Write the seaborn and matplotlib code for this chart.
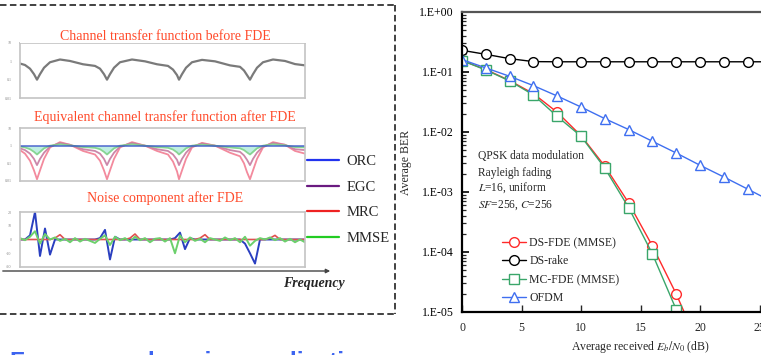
import numpy as np
import pandas as pd
import matplotlib
matplotlib.use("Agg")
import matplotlib.pyplot as plt
import seaborn as sns
from matplotlib.lines import Line2D
from matplotlib.patches import Rectangle
from matplotlib.ticker import FixedLocator, LogLocator, NullFormatter

# ---------------- data: BER chart ----------------
EBN0 = [0, 2, 4, 6, 8, 10, 12, 14, 16, 18, 20, 22, 24, 26]
DS_RAKE = [0.23, 0.197, 0.167, 0.149, 0.148, 0.148, 0.148, 0.148, 0.148, 0.148, 0.148, 0.148, 0.148, 0.148]
OFDM = [0.161, 0.117, 0.0848, 0.0593, 0.0398, 0.0261, 0.0167, 0.0110, 0.0070, 0.00447, 0.00279, 0.00178, 0.00112, 0.0007]
FDE_X = [0, 2, 4, 6, 8, 10, 12, 14, 16, 18, 20]
DS_FDE = [0.155, 0.11, 0.072, 0.0436, 0.0213, 0.0087, 0.0027, 0.00066, 0.000126, 0.00002, 0.0000025]
MC_FDE = [0.155, 0.108, 0.071, 0.0415, 0.0182, 0.0085, 0.0025, 0.00055, 0.000093, 0.000011, 0.000001]
YTICKS = [1, 1e-1, 1e-2, 1e-3, 1e-4, 1e-5]
YTICKLABELS = ["1.E+00", "1.E-01", "1.E-02", "1.E-03", "1.E-04", "1.E-05"]
XTICKS = [0, 5, 10, 15, 20, 25, 30]

# ---------------- data: left illustration ----------------
CH_X = [0, 5, 10, 14, 17, 20, 24, 30, 40, 50, 63, 75, 80, 84, 87, 90, 94, 100, 112, 125,
        137, 148, 153, 157, 159, 162, 166, 172, 182, 195, 210, 220, 224, 227, 230, 233, 237, 243, 253, 265,
        275, 285]
CH_LOG = [-0.12, -0.2, -0.4, -0.7, -1.0, -0.7, -0.35, -0.05, 0.1, 0.02, -0.16, -0.25, -0.4, -0.7, -1.0, -0.7, -0.35, -0.05, 0.1, 0.0,
          -0.16, -0.25, -0.45, -0.75, -1.0, -0.7, -0.35, -0.05, 0.08, 0.0, -0.22, -0.3, -0.5, -0.75, -1.0, -0.7, -0.35, -0.05, 0.1, 0.02,
          -0.15, -0.22]
ORC_X = [0, 285]
ORC = [0.0, 0.0]
EGC = [-0.15, -0.25, -0.45, -0.75, -1.1, -0.75, -0.4, -0.05, 0.15, 0.05, -0.2, -0.3, -0.45, -0.75, -1.1, -0.75, -0.4, -0.05, 0.15, 0.0,
       -0.2, -0.3, -0.5, -0.8, -1.1, -0.75, -0.4, -0.05, 0.12, 0.0, -0.25, -0.35, -0.55, -0.8, -1.1, -0.75, -0.4, -0.05, 0.15, 0.05,
       -0.2, -0.25]
MRC = [-0.25, -0.45, -0.85, -1.4, -1.9, -1.4, -0.75, -0.1, 0.2, 0.05, -0.3, -0.5, -0.85, -1.4, -1.9, -1.4, -0.75, -0.1, 0.2, 0.0,
       -0.3, -0.5, -0.9, -1.45, -1.9, -1.4, -0.75, -0.1, 0.16, 0.0, -0.4, -0.6, -1.0, -1.5, -1.9, -1.4, -0.75, -0.1, 0.2, 0.05,
       -0.3, -0.45]
MMSE = [-0.05, -0.1, -0.2, -0.35, -0.5, -0.35, -0.15, 0.0, 0.08, 0.02, -0.08, -0.12, -0.2, -0.35, -0.5, -0.35, -0.15, 0.0, 0.08, 0.0,
        -0.08, -0.12, -0.22, -0.38, -0.5, -0.35, -0.15, 0.0, 0.06, 0.0, -0.1, -0.15, -0.25, -0.38, -0.5, -0.35, -0.15, 0.0, 0.08, 0.02,
        -0.08, -0.1]
N_X = list(range(0, 286, 5))
N_GREEN = [0.1, -0.05, 0.2, 0.6, -0.3, 0.4, 0.0, 0.15, -0.1, 0.05, -0.2, 0.1, -0.15, 0.05, -0.1, -0.25, 0.05, 0.3, -0.4, 0.2,
           -0.05, 0.1, -0.15, 0.2, -0.05, 0.1, -0.2, 0.05, 0.1, -0.15, 0.1, -1.0, 0.3, -0.2, 0.15, -0.1, 0.05, -0.2, 0.1, 0.0,
           -0.1, 0.15, -0.05, 0.1, -0.2, 0.2, -0.45, -0.1, 0.1, 0.0, 0.15, -0.05, 0.1, -0.15, 0.05, -0.2, 0.0, -0.2]
N_BLUE = [0.0, 0.0, 0.3, 2.0, -1.2, 0.8, -1.1, 0.0, 0.0, 0.0, 0.0, 0.0, 0.0, 0.0, 0.0, 0.0, 0.1, 0.7, -1.45, 0.2,
          0.0, 0.0, 0.0, 0.0, 0.0, 0.0, 0.0, 0.0, 0.0, 0.0, 0.0, 0.1, 0.5, -0.7, 0.1, 0.0, 0.0, 0.0, 0.0, 0.0,
          0.0, 0.0, 0.0, 0.0, 0.0, -0.3, -1.0, -1.75, 0.0, 0.0, 0.0, 0.0, 0.0, 0.0, 0.0, 0.0, 0.0, 0.0]
N_RED = [0.0, 0.0, 0.0, 0.0, 0.0, 0.0, 0.0, 0.1, 0.35, 0.0, 0.0, 0.0, 0.0, 0.0, 0.0, 0.0, 0.0, 0.0, 0.0, 0.0,
         0.0, 0.0, 0.1, 0.4, 0.0, 0.0, 0.0, 0.0, 0.0, 0.0, 0.0, 0.0, 0.0, 0.0, 0.0, 0.0, 0.1, 0.35, 0.0, 0.0,
         0.0, 0.0, 0.0, 0.0, 0.0, 0.0, 0.0, 0.0, 0.0, 0.0, 0.1, 0.3, 0.0, 0.0, 0.0, 0.0, 0.0, 0.0]
LEFT_LABELS = ["ORC", "EGC", "MRC", "MMSE"]

# ---------------- style ----------------
sns.set_theme(style="white")
plt.rcParams['font.family'] = ['Liberation Serif', 'DejaVu Serif']
plt.rcParams['mathtext.fontset'] = 'stix'

W, H = 761, 355
fig = plt.figure(figsize=(W / 100, H / 100), dpi=100)


def rect(x0, y0, x1, y1):
    return [x0 / W, 1 - y1 / H, (x1 - x0) / W, (y1 - y0) / H]


# ---------------- BER chart ----------------
ax = fig.add_axes(rect(462, 12, 819, 312))
RED, GREEN, BLUE = '#ff2a2a', '#3aa66a', '#3f6ff0'
common = dict(lw=1.0, mfc='white', mew=1.0, legend=False, ax=ax)
sns.lineplot(x=EBN0, y=DS_RAKE, color='black', marker='o', ms=7, mec='black', **common)
sns.lineplot(x=FDE_X, y=DS_FDE, color=RED, marker='o', ms=7, mec=RED, **common)
sns.lineplot(x=FDE_X, y=MC_FDE, color=GREEN, marker='s', ms=6.5, mec=GREEN, **common)
sns.lineplot(x=EBN0, y=OFDM, color=BLUE, marker='^', ms=7, mec=BLUE, **common)
lines = ax.get_lines()
ax.set_yscale('log')
ax.set_ylim(1e-5, 1)
ax.set_xlim(0, 30)
ax.yaxis.set_major_locator(FixedLocator(YTICKS))
ax.set_yticklabels(YTICKLABELS)
ax.yaxis.set_minor_locator(LogLocator(base=10, subs=range(2, 10)))
ax.yaxis.set_minor_formatter(NullFormatter())
ax.set_xticks(XTICKS)
ax.set_xticklabels([str(t) for t in XTICKS])
ax.tick_params(axis='y', which='major', direction='in', length=5, width=1.2, left=True, labelsize=8.5, pad=6, colors='black')
ax.tick_params(axis='y', which='minor', direction='in', length=3, width=0.9, left=True)
ax.tick_params(axis='x', which='major', direction='in', length=5, width=1.0, bottom=True, labelsize=8.5, pad=7)
for s in ['left', 'bottom']:
    ax.spines[s].set_color('black')
    ax.spines[s].set_linewidth(1.6)
ax.spines['top'].set_color('#555555')
ax.spines['top'].set_linewidth(1.6)
ax.spines['right'].set_visible(False)
ax.set_ylabel("Average BER", fontsize=8.5, labelpad=5)
ax.set_xlabel("Average received $E_b/N_0$ (dB)", fontsize=8.5, labelpad=3.5)
ax.legend([lines[1], lines[0], lines[2], lines[3]],
          ["DS-FDE (MMSE)", "DS-rake", "MC-FDE (MMSE)", "OFDM"],
          loc='upper left', bbox_to_anchor=(0.112, 0.250), frameon=False, fontsize=8.5,
          handlelength=2.0, handletextpad=0.3, labelspacing=0.55, borderpad=0, borderaxespad=0)
for txt, yf in [("QPSK data modulation", 0.52), ("Rayleigh fading", 0.463),
                ("$L$=16, uniform", 0.413), ("$SF$=256, $C$=256", 0.357)]:
    ax.text(0.045, yf, txt, transform=ax.transAxes, fontsize=8.3, va='center', ha='left')

# ---------------- left illustration ----------------
def mini(y0, y1, ylim, ticks, labels):
    a = fig.add_axes(rect(20, y0, 305, y1))
    a.set_facecolor('white')
    a.set_xlim(0, 285)
    a.set_ylim(*ylim)
    a.set_xticks([])
    a.set_yticks(ticks)
    a.set_yticklabels(labels)
    a.tick_params(axis='y', labelsize=3, colors='#888888', length=0, pad=6)
    for s in a.spines.values():
        s.set_color('#c4c4c4')
        s.set_linewidth(1.2)
    return a

a1 = mini(43, 98, (-2, 1), [1, 0, -1, -2], ['10', '1', '0.1', '0.01'])
sns.lineplot(x=CH_X, y=CH_LOG, color='#7a7a7a', lw=1.6, ax=a1)

a2 = mini(128, 181, (-2, 1), [1, 0, -1, -2], ['10', '1', '0.1', '0.01'])
a2.fill_between(CH_X, MMSE, 0, color='#bfeee2', lw=0)
sns.lineplot(x=CH_X, y=MRC, color='#f27d92', lw=1.3, alpha=0.9, ax=a2)
sns.lineplot(x=CH_X, y=EGC, color='#c77aa0', lw=1.3, alpha=0.9, ax=a2)
sns.lineplot(x=CH_X, y=MMSE, color='#7fd28a', lw=1.3, alpha=0.9, ax=a2)
sns.lineplot(x=ORC_X, y=ORC, color='#3550c8', lw=1.2, alpha=0.8, ax=a2)

a3 = mini(212, 267, (-2, 2), [2, 1, 0, -1, -2], ['20', '10', '0', '-10', '-20'])
sns.lineplot(x=N_X, y=N_BLUE, color='#2a3fc0', lw=1.4, ax=a3)
sns.lineplot(x=N_X, y=N_RED, color='#e05050', lw=1.2, ax=a3)
sns.lineplot(x=N_X, y=N_GREEN, color='#6cd06c', lw=1.4, ax=a3)

handles = [Line2D([], [], color=c, lw=1.6) for c in ['#2233ee', '#6a1a80', '#ee2222', '#22cc22']]
fig.legend(handles, LEFT_LABELS, loc='upper left', bbox_to_anchor=(307 / W, 1 - 155 / H),
           frameon=False, fontsize=10.5, handlelength=2.2, handletextpad=0.5,
           labelspacing=0.85, borderpad=0, borderaxespad=0)

# overlay for annotations / decorations in pixel units
ov = fig.add_axes([0, 0, 1, 1], zorder=5)
ov.set_xlim(0, W)
ov.set_ylim(H, 0)
ov.axis('off')
ov.patch.set_alpha(0)
TITLE_C = '#ff4a2a'
ov.text(165, 36, "Channel transfer function before FDE", color=TITLE_C, fontsize=10, ha='center', va='center', zorder=1)
ov.add_patch(Rectangle((20, 39.5), 290, 3, color='white', zorder=2, lw=0))
ov.text(165, 117, "Equivalent channel transfer function after FDE", color=TITLE_C, fontsize=10, ha='center', va='center')
ov.text(165, 198, "Noise component after FDE", color=TITLE_C, fontsize=10, ha='center', va='center')
ov.annotate('', xy=(333, 271), xytext=(0, 271),
            arrowprops=dict(arrowstyle='-|>', color='#444444', lw=1.0, mutation_scale=6))
ov.text(314, 283, "Frequency", fontsize=10, fontweight='bold', fontstyle='italic', ha='center', va='center')
dash = (0, (3.6, 1.9))
ov.plot([0, 395], [5, 5], color='#333333', lw=1.3, ls=dash)
ov.plot([395, 395], [5, 314], color='#333333', lw=1.3, ls=dash)
ov.plot([0, 395], [314, 314], color='#333333', lw=1.3, ls=dash)
ov.text(10, 369, "Frequency domain equalization", fontsize=17.5, family='Liberation Sans',
        fontweight='bold', color='#3c64f0', va='baseline', ha='left', clip_on=False)

fig.savefig("out.png", dpi=100)
